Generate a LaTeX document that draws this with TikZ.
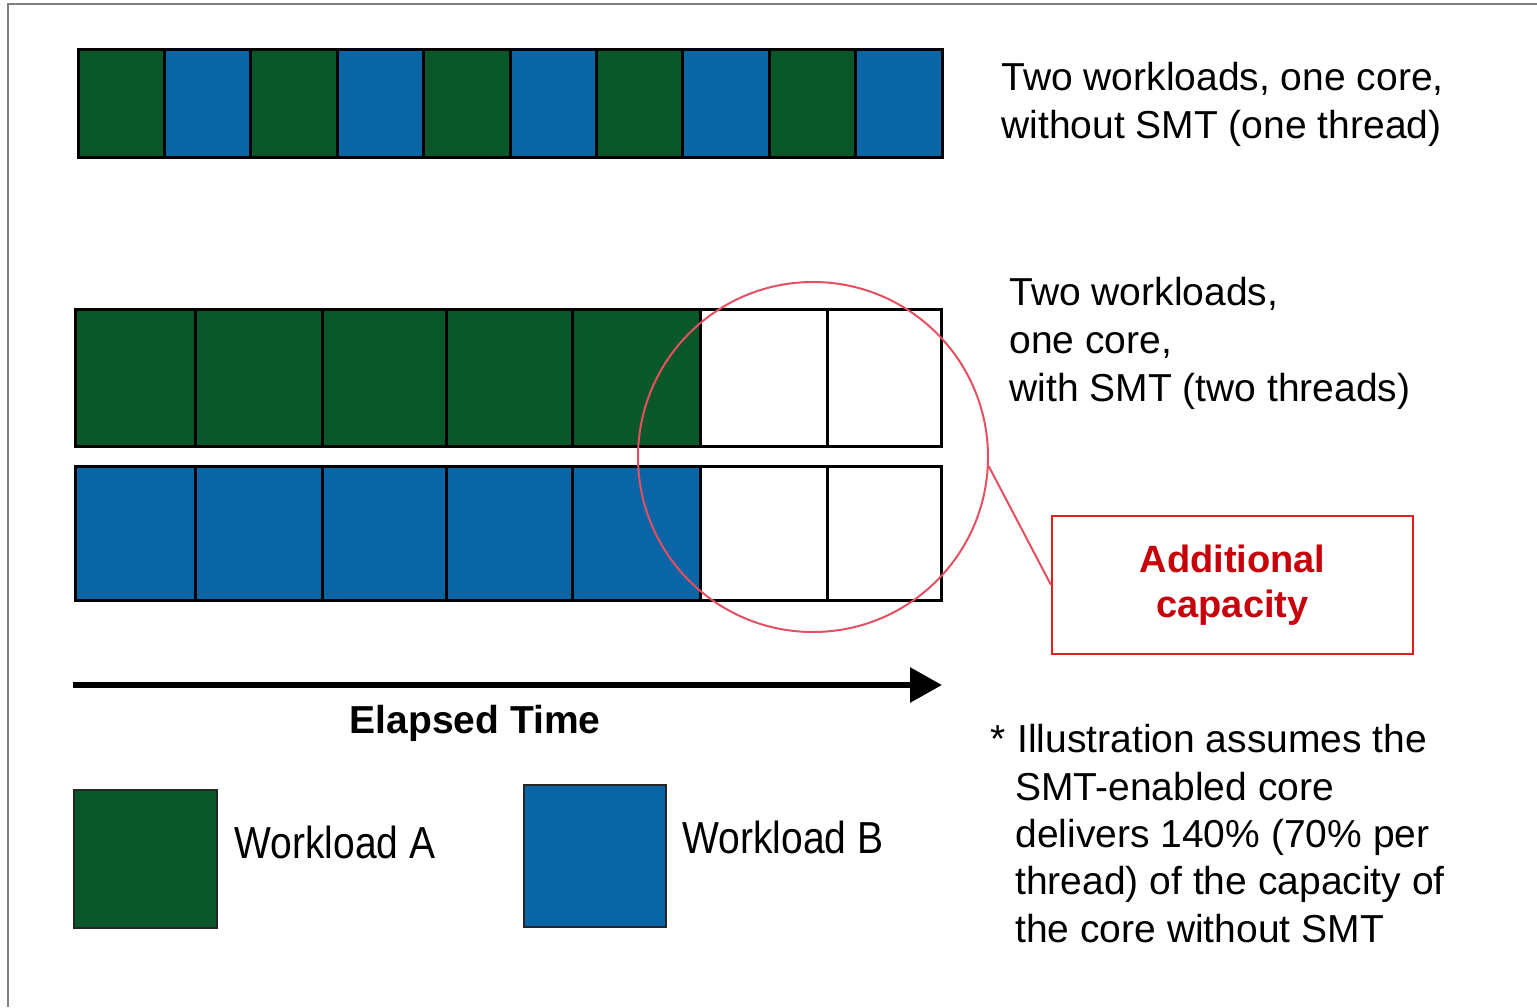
\documentclass[tikz,border=0pt]{standalone}
\usepackage{fontspec}
\usepackage{graphicx}
\setmainfont{Liberation Sans}
\usetikzlibrary{arrows.meta}

\definecolor{wlgreen}{RGB}{10,88,42}
\definecolor{wlblue}{RGB}{9,101,165}
\definecolor{ringred}{RGB}{228,80,95}
\definecolor{boxred}{RGB}{228,30,30}
\definecolor{capred}{RGB}{200,0,10}
\definecolor{framegray}{RGB}{128,128,128}

\begin{document}
\begin{tikzpicture}[x=0.5pt,y=-0.5pt,
  cellline/.style={draw=black,line width=1.5pt},
  txt/.style={anchor=base west,inner sep=0pt,font=\fontsize{19.5pt}{24pt}\selectfont},
  legendbox/.style={draw=black!85,line width=1.2pt,inner sep=0pt}]

\useasboundingbox (0,0) rectangle (1537,1007);

% frame (top and left edges)
\coordinate (frBL) at (8,1007);
\coordinate (frTL) at (8,4);
\coordinate (frTR) at (1537,4);
\draw[framegray,line width=1pt] (frBL) -- (frTL) -- (frTR);

% one thread: workloads alternate on the core
\foreach \i in {0,2,...,8}
  \fill[wlgreen] ({78+86.4*\i},49) rectangle ({78+86.4*(\i+1)},157);
\foreach \i in {1,3,...,9}
  \fill[wlblue] ({78+86.4*\i},49) rectangle ({78+86.4*(\i+1)},157);
\draw[cellline] (78,49) rectangle (942,157);
\foreach \i in {1,...,9}
  \draw[cellline] ({78+86.4*\i},49) -- ({78+86.4*\i},157);

% two threads: each workload on its own thread
\fill[wlgreen] (75,309) rectangle (700,446);
\fill[wlblue]  (75,466) rectangle (700,600);
\draw[cellline] (75,309) rectangle (941,446);
\draw[cellline] (75,466) rectangle (941,600);
\foreach \x in {195,322,446,572,700,827} {
  \draw[cellline] (\x,309) -- (\x,446);
  \draw[cellline] (\x,466) -- (\x,600);
}

% descriptions
\node[txt] (d1a) at (1001,90)  {Two workloads, one core,};
\node[txt] (d1b) at (1001,138) {without SMT (one thread)};
\node[txt] (d2a) at (1009,305) {Two workloads,};
\node[txt] (d2b) at (1009,353) {one core,};
\node[txt] (d2c) at (1009,401) {with SMT (two threads)};

% additional capacity callout
\node[circle,draw=ringred,line width=1pt,minimum size=175pt,inner sep=0pt] (ring) at (813,457) {};
\node[draw=boxred,line width=1pt,minimum width=180.5pt,minimum height=69pt,inner sep=0pt,
      align=center,text=capred,font=\fontsize{19pt}{22.5pt}\selectfont\bfseries]
      (capbox) at (1232.5,585) {Additional\\capacity};
\draw[ringred,line width=1pt] (ring.-3) -- (capbox.west);

% time axis
\coordinate (tstart) at (73,685);
\coordinate (tend) at (942,685);
\draw[line width=3pt,-{Triangle[length=16pt,width=17pt]}] (tstart) -- (tend);
\node[anchor=base,inner sep=0pt,font=\fontsize{19.5pt}{24pt}\selectfont\bfseries]
  (elapsed) at (475,733) {Elapsed Time};

% legend
\node[legendbox,fill=wlgreen,minimum width=71.5pt,minimum height=69pt] (legA) at (145.5,859) {};
\node[txt] (legAtxt) at (234,858) {\scalebox{1}[1.15]{Workload A}};
\node[legendbox,fill=wlblue,minimum width=71pt,minimum height=71pt] (legB) at (595,856) {};
\node[txt] (legBtxt) at (682,853) {\scalebox{1}[1.15]{Workload B}};

% footnote
\node[txt] (star) at (990,752) {*};
\node[txt] (n1) at (1017,752) {Illustration assumes the};
\node[txt] (n2) at (1015,800) {SMT-enabled core};
\node[txt] (n3) at (1015,847) {delivers 140\% (70\% per};
\node[txt] (n4) at (1015,894) {thread) of the capacity of};
\node[txt] (n5) at (1015,942) {the core without SMT};

\end{tikzpicture}
\end{document}
